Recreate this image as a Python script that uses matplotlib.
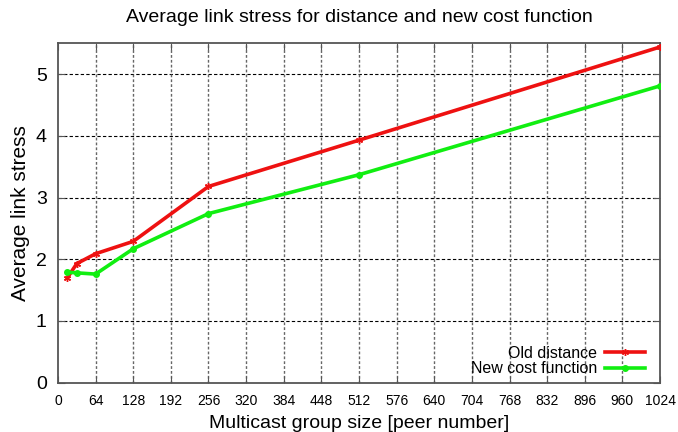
import matplotlib
matplotlib.use("Agg")
import matplotlib.pyplot as plt

plt.rcParams['font.family'] = ['Liberation Sans', 'DejaVu Sans']

group_size = [16, 32, 64, 128, 256, 512, 1024]
old_distance = [1.70, 1.93, 2.09, 2.29, 3.18, 3.93, 5.44]
new_cost = [1.79, 1.78, 1.76, 2.17, 2.74, 3.37, 4.81]
x_ticks = list(range(0, 1025, 64))
y_ticks = [0, 1, 2, 3, 4, 5]

fig = plt.figure(figsize=(6.78, 4.32), dpi=100)
ax = fig.add_axes([0.0855, 0.1141, 0.888, 0.7857])

for y in y_ticks[1:]:
    ax.axhline(y, color='black', lw=0.8, ls=(0, (3, 2)), zorder=1)
for x in x_ticks[1:-1]:
    ax.axvline(x, color='#666666', lw=1.0, ls=(0, (2, 1.5)), zorder=1)

ax.plot(group_size, old_distance, color='#ee1111', lw=2.6, marker=(6, 2, 0),
        ms=5, mew=1.0, label='Old distance', zorder=3)
ax.plot(group_size, new_cost, color='#11ee11', lw=2.6, marker='o',
        ms=4, label='New cost function', zorder=3)

ax.set_xlim(0, 1024)
ax.set_ylim(0, 5.5)
ax.set_xticks(x_ticks)
ax.set_yticks(y_ticks)
ax.tick_params(axis='x', labelsize=10, direction='in', top=True, length=5, color='#555555', pad=8)
ax.tick_params(axis='y', labelsize=14, direction='in', right=True, length=5, color='#555555', pad=8)
for s in ax.spines.values():
    s.set_color('#555555')
    s.set_linewidth(1.3)

ax.set_xlabel('Multicast group size [peer number]', fontsize=14, labelpad=5)
ax.set_ylabel('Average link stress', fontsize=15, labelpad=4)
fig.text(359 / 678, 1 - 17 / 432, 'Average link stress for distance and new cost function',
         fontsize=14, ha='center', va='center')

leg = ax.legend(loc='lower right', frameon=False, markerfirst=False, fontsize=11.5,
                handlelength=2.5, handletextpad=0.5, labelspacing=0.05,
                borderaxespad=0.0, bbox_to_anchor=(0.986, 0.0))

fig.savefig('out.png', dpi=100)
